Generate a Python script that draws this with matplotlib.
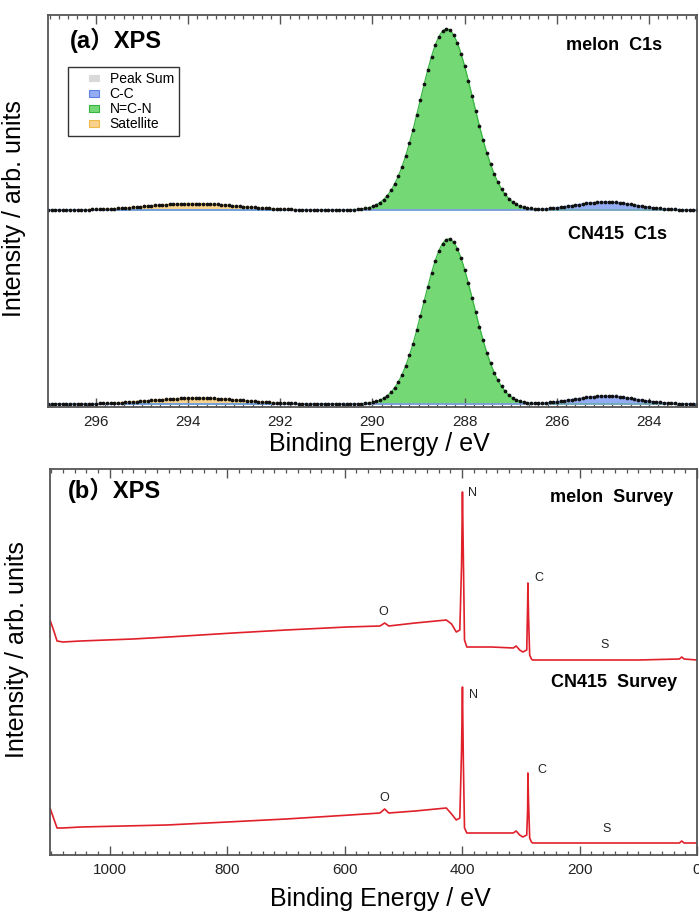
import numpy as np
import matplotlib
matplotlib.use("Agg")
import matplotlib.pyplot as plt
from matplotlib.patches import Patch, Rectangle
from matplotlib.legend_handler import HandlerPatch
from matplotlib.ticker import MultipleLocator

plt.rcParams['font.family'] = ['Liberation Sans', 'Noto Sans CJK JP', 'DejaVu Sans']

# ---------------- data: panel (a) C1s peak fits ----------------
c1s_samples = ["melon", "CN415"]
c1s_offsets = [197.0, 3.0]                 # baseline of each stacked spectrum (arb. units)
component_names = ["C-C", "N=C-N", "Satellite"]
# fitted peak parameters per sample: centre (eV), FWHM (eV), height (arb.)
melon_centers = [284.95, 288.39, 293.90]
melon_fwhm = [1.55, 1.35, 2.30]
melon_heights = [8.0, 181.0, 6.5]
cn415_centers = [284.95, 288.35, 293.80]
cn415_fwhm = [1.55, 1.28, 2.30]
cn415_heights = [8.0, 165.0, 6.0]
c1s_range = [297.04, 282.96]
c1s_step = 0.08                            # data point spacing (eV)

# ---------------- data: panel (b) survey spectra ----------------
melon_be = [1102, 1096, 1090, 1080, 1050, 961, 900, 790, 700, 596, 540, 532, 525, 480,
            427, 418, 410, 404, 401, 399.5, 398, 396, 392, 350, 313, 308, 302, 296.5,
            290, 288.5, 288, 287, 285, 282, 280, 200, 100, 30, 26, 22, 0]
melon_int = [235, 225, 214, 213, 214, 216, 218, 222, 225, 228, 229, 232, 229, 232,
             235, 231, 223, 225, 290, 363, 300, 215, 208, 208, 207, 209, 205, 203,
             205, 250, 272, 240, 200, 196, 195, 195, 195, 196, 198, 196, 195]
cn415_be = [1102, 1096, 1090, 1080, 1050, 903, 800, 700, 591, 540, 532, 525, 480,
            427, 418, 410, 404, 401, 399.5, 398, 396, 392, 350, 313, 308, 302, 296.5,
            290, 288.5, 288, 287, 285, 282, 280, 200, 100, 30, 26, 22, 0]
cn415_int = [47, 37, 27, 27, 28, 30, 33, 36, 40, 42, 46, 42, 44,
             47, 41, 35, 37, 105, 168, 95, 27, 22, 22, 22, 24, 20, 18,
             20, 45, 82, 55, 17, 13, 12, 12, 12, 12, 14, 12, 12]
survey_labels = ["O", "N", "C", "S"]
melon_label_be = [535, 382, 270, 157]
melon_label_y = [243, 362, 277, 210]
cn415_label_be = [532, 380, 265, 154]
cn415_label_y = [57, 160, 85, 26]

# ---------------- style ----------------
W, H = 699, 913
fig = plt.figure(figsize=(W / 100, H / 100), dpi=100)
spine_col = '#555555'
fill_cols = {"Peak Sum": '#d9d9d9', "C-C": '#93acf3', "N=C-N": '#74d874', "Satellite": '#f8d28c'}
edge_cols = {"Peak Sum": '#d9d9d9', "C-C": '#5d82e6', "N=C-N": '#35b540', "Satellite": '#efb94a'}


def style_axes(ax, major, minor):
    for s in ax.spines.values():
        s.set_color(spine_col)
        s.set_linewidth(1.3)
    ax.xaxis.set_major_locator(MultipleLocator(major))
    ax.xaxis.set_minor_locator(MultipleLocator(minor))
    ax.tick_params(axis='x', which='both', direction='in', top=True, bottom=True,
                   color=spine_col, labelsize=11, pad=6, labelcolor='#222222')
    ax.tick_params(axis='x', which='major', length=6.5, width=1.0)
    ax.tick_params(axis='x', which='minor', length=3.2, width=0.9)
    ax.tick_params(axis='y', which='both', left=False, right=False, labelleft=False)


def gauss(x, c, fwhm, h):
    s = fwhm / 2.3548
    return h * np.exp(-0.5 * ((x - c) / s) ** 2)


# ================= panel (a) =================
axa = fig.add_axes([48 / W, 1 - 407 / H, (697 - 48) / W, (407 - 15) / H])
E = np.linspace(c1s_range[1], c1s_range[0], 1500)
Ed = np.arange(c1s_range[1], c1s_range[0], c1s_step)
params = [(melon_centers, melon_fwhm, melon_heights), (cn415_centers, cn415_fwhm, cn415_heights)]
for off, (cs, ws, hs) in zip(c1s_offsets, params):
    comps = {n: gauss(E, c, w, h) for n, c, w, h in zip(component_names, cs, ws, hs)}
    total = sum(comps.values())
    axa.fill_between(E, off, off + total, color=fill_cols["Peak Sum"], lw=0)
    for n in ["Satellite", "N=C-N", "C-C"]:
        axa.fill_between(E, off, off + comps[n], color=fill_cols[n], lw=0)
        axa.plot(E, off + comps[n], color=edge_cols[n], lw=0.9)
    axa.plot(E, np.full_like(E, off), color='#7aa6e8', lw=1.0)
    meas = sum(gauss(Ed, c, w, h) for c, w, h in zip(cs, ws, hs))
    axa.plot(Ed, off + meas, linestyle='none', marker='o', ms=1.7, color='#111111')

axa.set_xlim(c1s_range[0], c1s_range[1])
axa.set_ylim(0, 392)
style_axes(axa, 2, 0.2)
axa.set_xlabel("Binding Energy / eV", fontsize=18)
axa.xaxis.label.set_verticalalignment('baseline')
axa.xaxis.set_label_coords(0.511, -0.112)
axa.set_ylabel("Intensity / arb. units", fontsize=18)
axa.yaxis.set_label_coords(-0.034, 0.505)

axa.text((70 - 48) / 649, (407 - 40) / 392, "(a）XPS", transform=axa.transAxes,
         fontsize=17, fontweight='bold', ha='left', va='center')
axa.text((662 - 48) / 649, (407 - 45) / 392, "melon  C1s", transform=axa.transAxes,
         fontsize=13, fontweight='bold', ha='right', va='center')
axa.text((667 - 48) / 649, (407 - 234) / 392, "CN415  C1s", transform=axa.transAxes,
         fontsize=13, fontweight='bold', ha='right', va='center')


def small_patch(legend, orig_handle, xdescent, ydescent, width, height, fontsize):
    w, h = 7.5, 5.0
    return Rectangle((-xdescent + width - w, -ydescent + (height - h) / 2), w, h)


handles = [Patch(facecolor=fill_cols[n], edgecolor=edge_cols[n], lw=0.8)
           for n in ["Peak Sum", "C-C", "N=C-N", "Satellite"]]
leg = axa.legend(handles, ["Peak Sum", "C-C", "N=C-N", "Satellite"],
                 loc='upper left', bbox_to_anchor=((68 - 48) / 649, (407 - 67) / 392),
                 borderaxespad=0, fontsize=10, handlelength=1.9, handletextpad=0.75,
                 labelspacing=0.08, borderpad=0.35, fancybox=False, framealpha=1,
                 edgecolor='#333333',
                 handler_map={Patch: HandlerPatch(patch_func=small_patch)})
leg.get_frame().set_linewidth(1.0)

# ================= panel (b) =================
axb = fig.add_axes([50 / W, 1 - 855 / H, (697 - 50) / W, (855 - 469) / H])
red = '#e0202a'
axb.plot(melon_be, melon_int, color=red, lw=1.2)
axb.plot(cn415_be, cn415_int, color=red, lw=1.2)
for lab, xb, yb in zip(survey_labels, melon_label_be, melon_label_y):
    axb.text(xb, yb, lab, fontsize=9, ha='center', va='center', color='#222222')
for lab, xb, yb in zip(survey_labels, cn415_label_be, cn415_label_y):
    axb.text(xb, yb, lab, fontsize=9, ha='center', va='center', color='#222222')
axb.set_xlim(1102, 0)
axb.set_ylim(0, 386)
style_axes(axb, 200, 20)
axb.set_xlabel("Binding Energy / eV", fontsize=18)
axb.xaxis.label.set_verticalalignment('baseline')
axb.xaxis.set_label_coords(0.51, -0.132)
axb.set_ylabel("Intensity / arb. units", fontsize=18)
axb.yaxis.set_label_coords(-0.033, 0.531)

axb.text((68 - 50) / 647, (855 - 490) / 386, "(b）XPS", transform=axb.transAxes,
         fontsize=17, fontweight='bold', ha='left', va='center')
axb.text((673 - 50) / 647, (855 - 497) / 386, "melon  Survey", transform=axb.transAxes,
         fontsize=13, fontweight='bold', ha='right', va='center')
axb.text((677 - 50) / 647, (855 - 682) / 386, "CN415  Survey", transform=axb.transAxes,
         fontsize=13, fontweight='bold', ha='right', va='center')

fig.savefig("out.png", dpi=100)
